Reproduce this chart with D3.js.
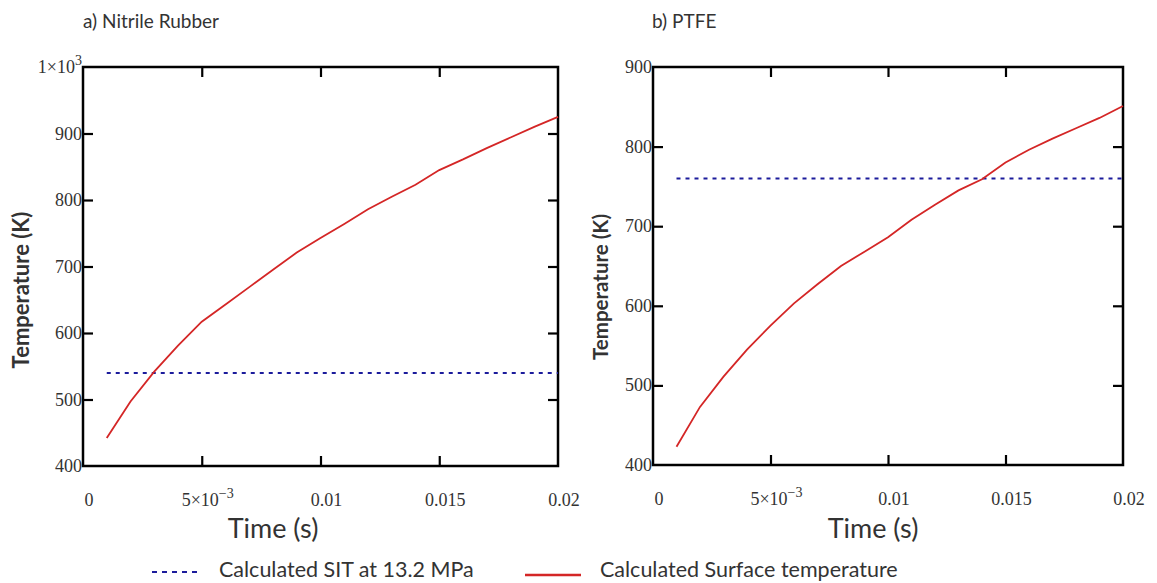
<!DOCTYPE html>
<html>
<head>
<meta charset="utf-8">
<script src="https://cdn.jsdelivr.net/npm/d3@7"></script>
<style>
  html, body { margin: 0; padding: 0; background: #fff; }
  svg { display: block; }
</style>
</head>
<body>
<svg id="chart" width="1157" height="583"></svg>
<script>
// Time samples (s)
const timeSteps = [0.001, 0.002, 0.003, 0.004, 0.005, 0.006, 0.007, 0.008, 0.009, 0.010,
                   0.011, 0.012, 0.013, 0.014, 0.015, 0.016, 0.017, 0.018, 0.019, 0.020];

// Calculated surface temperature (K)
const nitrileSurface = [442, 497, 542, 581, 617, 643, 669, 695, 721, 743,
                        764, 786, 805, 823, 845, 861, 878, 894, 910, 925];
const ptfeSurface    = [423, 473, 511, 545, 575, 603, 627, 650, 668, 686,
                        708, 727, 745, 759, 780, 796, 810, 823, 836, 851];

// Calculated SIT at 13.2 MPa (K)
const nitrileSIT = 540;
const ptfeSIT = 760;

// Axis ticks
const xTicks = [0, 0.005, 0.01, 0.015, 0.02];
const xTickLabels = ["0", "5×10|−3", "0.01", "0.015", "0.02"];
const nitrileYTicks = [400, 500, 600, 700, 800, 900, 1000];
const nitrileYLabels = ["400", "500", "600", "700", "800", "900", "1×10|3"];
const ptfeYTicks = [400, 500, 600, 700, 800, 900];
const ptfeYLabels = ["400", "500", "600", "700", "800", "900"];

const panelTitles = ["a) Nitrile Rubber", "b) PTFE"];
const legendLabels = ["Calculated SIT at 13.2 MPa", "Calculated Surface temperature"];

const RED = "#d42626";
const BLUE = "#1c1c9c";
const TEXT = "#333";
const SANS = "Lato, 'Open Sans', sans-serif";
const SERIF = "'Liberation Serif', 'DejaVu Serif', serif";

const svg = d3.select("#chart");

// writes "mantissa|exponent" labels with a raised exponent
function writeLabel(sel, label) {
  const parts = label.split("|");
  sel.text(null);
  sel.append("tspan").text(parts[0]);
  if (parts.length > 1) {
    sel.append("tspan").attr("dy", "-0.6em").attr("font-size", "0.78em").text(parts[1]);
  }
}

function drawPanel(cfg) {
  const { left, right, top, bottom } = cfg.frame;
  const x = d3.scaleLinear().domain([0, 0.02]).range([left, right]);
  const y = d3.scaleLinear().domain(cfg.yDomain).range([bottom, top]);
  const g = svg.append("g");

  // inner ticks on all four sides
  const tickLen = 10;
  const innerX = xTicks.filter(t => t > 0 && t < 0.02);
  const innerY = cfg.yTicks.filter(t => t > cfg.yDomain[0] && t < cfg.yDomain[1]);

  const axisBottom = d3.axisBottom(x).tickValues(innerX).tickSize(-tickLen).tickFormat("");
  const axisTop = d3.axisTop(x).tickValues(innerX).tickSize(-tickLen).tickFormat("");
  const axisLeft = d3.axisLeft(y).tickValues(innerY).tickSize(-tickLen).tickFormat("");
  const axisRight = d3.axisRight(y).tickValues(innerY).tickSize(-tickLen).tickFormat("");

  [[axisBottom, `translate(0,${bottom})`], [axisTop, `translate(0,${top})`],
   [axisLeft, `translate(${left},0)`], [axisRight, `translate(${right},0)`]].forEach(([ax, tr]) => {
    const a = g.append("g").attr("transform", tr).call(ax);
    a.select(".domain").remove();
    a.selectAll(".tick line").attr("stroke", "#000").attr("stroke-width", 2.2);
  });

  // plot frame
  g.append("rect")
    .attr("x", left).attr("y", top)
    .attr("width", right - left).attr("height", bottom - top)
    .attr("fill", "none").attr("stroke", "#000").attr("stroke-width", 2.5);

  // y tick labels
  g.selectAll(".ylab").data(cfg.yTicks).enter().append("text")
    .attr("class", "ylab")
    .attr("x", left - 1)
    .attr("y", d => y(d) + 6)
    .attr("text-anchor", "end")
    .attr("font-family", SERIF).attr("font-size", 18).attr("fill", TEXT)
    .each(function (d, i) { writeLabel(d3.select(this), cfg.yLabels[i]); });

  // x tick labels
  g.selectAll(".xlab").data(xTicks).enter().append("text")
    .attr("class", "xlab")
    .attr("x", d => x(d) + 6)
    .attr("y", bottom + 40)
    .attr("text-anchor", "middle")
    .attr("font-family", SERIF).attr("font-size", 18).attr("fill", TEXT)
    .each(function (d, i) { writeLabel(d3.select(this), xTickLabels[i]); });

  // SIT threshold
  g.append("line")
    .attr("x1", x(timeSteps[0])).attr("x2", x(timeSteps[timeSteps.length - 1]))
    .attr("y1", y(cfg.sit)).attr("y2", y(cfg.sit))
    .attr("stroke", BLUE).attr("stroke-width", 2).attr("stroke-dasharray", "4,5");

  // surface temperature curve
  const line = d3.line().x(d => x(d[0])).y(d => y(d[1]));
  g.append("path")
    .datum(timeSteps.map((t, i) => [t, cfg.surface[i]]))
    .attr("d", line)
    .attr("fill", "none").attr("stroke", RED).attr("stroke-width", 1.8);

  // titles
  g.append("text")
    .attr("x", cfg.titleX).attr("y", 28)
    .attr("font-family", SANS).attr("font-size", 19).attr("fill", TEXT)
    .text(cfg.title);

  g.append("text")
    .attr("transform", `translate(${cfg.yTitleX},${cfg.yTitleY}) rotate(-90)`)
    .attr("text-anchor", "middle")
    .attr("font-family", SANS).attr("font-size", cfg.yTitleSize).attr("font-weight", "bold").attr("fill", TEXT)
    .text("Temperature (K)");

  g.append("text")
    .attr("x", cfg.xTitleX).attr("y", 538)
    .attr("text-anchor", "middle")
    .attr("font-family", SANS).attr("font-size", 27).attr("fill", TEXT)
    .text("Time (s)");
}

drawPanel({
  frame: { left: 83, right: 558, top: 67, bottom: 466 },
  yDomain: [400, 1000], yTicks: nitrileYTicks, yLabels: nitrileYLabels,
  surface: nitrileSurface, sit: nitrileSIT,
  title: panelTitles[0], titleX: 83,
  yTitleX: 29, yTitleY: 290, yTitleSize: 22, xTitleX: 273
});

drawPanel({
  frame: { left: 653, right: 1123, top: 67, bottom: 465 },
  yDomain: [400, 900], yTicks: ptfeYTicks, yLabels: ptfeYLabels,
  surface: ptfeSurface, sit: ptfeSIT,
  title: panelTitles[1], titleX: 652,
  yTitleX: 608, yTitleY: 287, yTitleSize: 20.5, xTitleX: 873
});

// legend
const legend = svg.append("g");
legend.append("line")
  .attr("x1", 152).attr("x2", 201).attr("y1", 572).attr("y2", 572)
  .attr("stroke", BLUE).attr("stroke-width", 2.2).attr("stroke-dasharray", "5,5");
legend.append("text")
  .attr("x", 219).attr("y", 577)
  .attr("font-family", SANS).attr("font-size", 21.5).attr("fill", TEXT)
  .text(legendLabels[0]);
legend.append("line")
  .attr("x1", 525).attr("x2", 581).attr("y1", 575).attr("y2", 575)
  .attr("stroke", RED).attr("stroke-width", 2.5);
legend.append("text")
  .attr("x", 600).attr("y", 577)
  .attr("font-family", SANS).attr("font-size", 21.5).attr("fill", TEXT)
  .text(legendLabels[1]);
</script>
</body>
</html>
